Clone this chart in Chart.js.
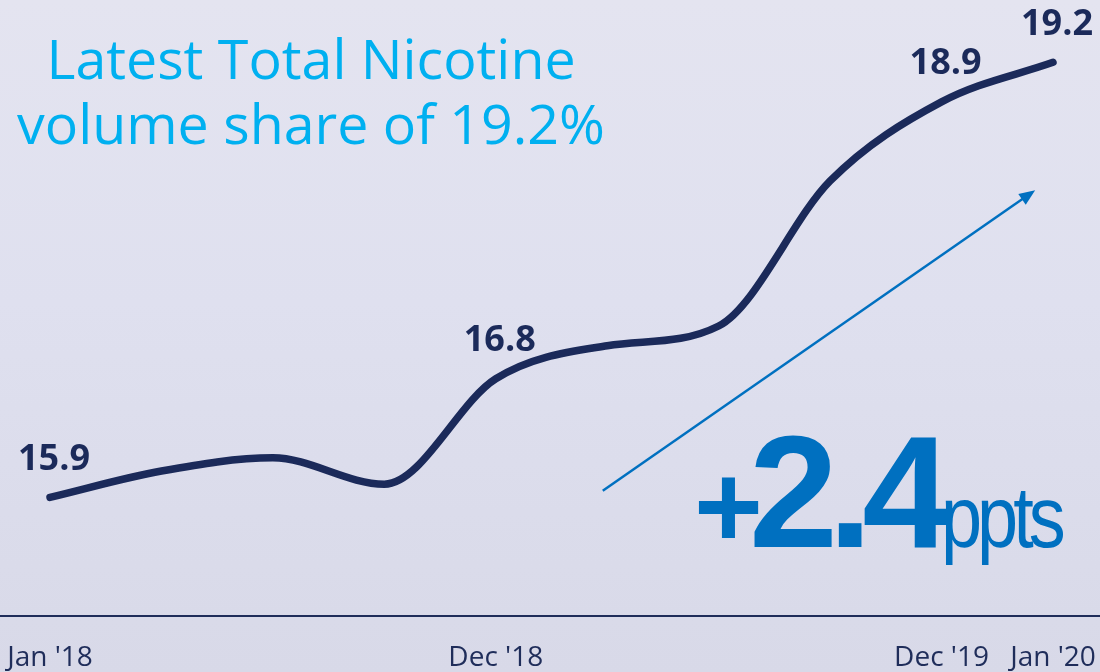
<!DOCTYPE html>
<html>
<head>
<meta charset="utf-8">
<title>Total Nicotine volume share</title>
<script src="https://cdn.jsdelivr.net/npm/chart.js"></script>
<style>
  html, body { margin: 0; padding: 0; }
  body {
    width: 1100px; height: 672px; overflow: hidden; position: relative;
    background: linear-gradient(180deg, #e4e4f0 0%, #dfe0ef 45%, #d8d9e8 100%);
    font-family: 'Open Sans', sans-serif;
  }
  #shareChart { position: absolute; left: 0; top: 0; }
  .headline {
    position: absolute; left: 0; top: 25px; width: 622px;
    text-align: center; color: #00b0f0; font-size: 55.5px; line-height: 65px;
  }
  .change {
    position: absolute; left: 694px; top: 412px; line-height: 160px;
    color: #0070c0; font-family: 'Liberation Sans', Arial, sans-serif; white-space: nowrap;
  }
  .change .plus { font-size: 118px; font-weight: bold; letter-spacing: -14px; }
  .change .num { font-size: 160px; font-weight: bold; letter-spacing: -10px; }
  .change .unit {
    display: inline-block; font-size: 88px; letter-spacing: -6px;
    transform: scaleX(0.84); transform-origin: left bottom;
  }
</style>
</head>
<body>
<canvas id="shareChart" width="1100" height="672"></canvas>
<div class="headline">Latest Total Nicotine<br>volume share of 19.2%</div>
<div class="change"><span class="plus">+</span><span class="num">2.4</span><span class="unit">ppts</span></div>

<script>
// periods on the x axis (only some of them get a tick label)
const periods = ["Jan '18", '', '', '', "Dec '18", '', '', '', "Dec '19", "Jan '20"];
// total nicotine volume share, %
const shareValues = [15.9, 16.1, 16.2, 16.0, 16.8, 17.05, 17.2, 18.3, 18.9, 19.2];
// points that carry a value label
const labelledPoints = [0, 4, 8, 9];
// trend arrow, in axis units (index, share)
const trendFrom = [4.96, 15.95];
const trendTo = [8.84, 18.23];

const navy = '#1b2a5a';

const overlayPlugin = {
    id: 'overlay',
    beforeDatasetsDraw(chart) {
        const ctx = chart.ctx;
        const y = chart.chartArea.bottom;
        // axis line across the whole slide
        ctx.save();
        ctx.strokeStyle = '#1f2d5a';
        ctx.lineWidth = 2;
        ctx.beginPath();
        ctx.moveTo(0, y);
        ctx.lineTo(chart.width, y);
        ctx.stroke();

        // trend arrow
        const xs = chart.scales.x, ys = chart.scales.y;
        const x1 = xs.getPixelForValue(trendFrom[0]), y1 = ys.getPixelForValue(trendFrom[1]);
        const x2 = xs.getPixelForValue(trendTo[0]), y2 = ys.getPixelForValue(trendTo[1]);
        const ang = Math.atan2(y2 - y1, x2 - x1);
        ctx.strokeStyle = '#0070c0';
        ctx.fillStyle = '#0070c0';
        ctx.lineWidth = 2.5;
        ctx.beginPath();
        ctx.moveTo(x1, y1);
        ctx.lineTo(x2 - 12 * Math.cos(ang), y2 - 12 * Math.sin(ang));
        ctx.stroke();
        ctx.beginPath();
        ctx.moveTo(x2, y2);
        ctx.lineTo(x2 - 16 * Math.cos(ang) + 6.5 * Math.sin(ang), y2 - 16 * Math.sin(ang) - 6.5 * Math.cos(ang));
        ctx.lineTo(x2 - 16 * Math.cos(ang) - 6.5 * Math.sin(ang), y2 - 16 * Math.sin(ang) + 6.5 * Math.cos(ang));
        ctx.closePath();
        ctx.fill();
        ctx.restore();
    },
    afterDatasetsDraw(chart) {
        const ctx = chart.ctx;
        const meta = chart.getDatasetMeta(0);
        ctx.save();
        ctx.font = 'bold 36px "Open Sans", sans-serif';
        ctx.fillStyle = navy;
        ctx.textAlign = 'center';
        ctx.textBaseline = 'middle';
        labelledPoints.forEach(i => {
            const pt = meta.data[i];
            ctx.fillText(shareValues[i].toFixed(1), pt.x + 4, pt.y - 38);
        });
        ctx.restore();
    }
};

new Chart(document.getElementById('shareChart'), {
    type: 'line',
    data: {
        labels: periods,
        datasets: [{
            label: 'Total Nicotine volume share',
            data: shareValues,
            borderColor: navy,
            borderWidth: 7.5,
            borderCapStyle: 'round',
            cubicInterpolationMode: 'monotone',
            pointRadius: 0,
            fill: false,
            clip: false
        }]
    },
    options: {
        responsive: false,
        animation: false,
        layout: { padding: { left: 50, right: 47, top: 3, bottom: 0 } },
        plugins: {
            legend: { display: false },
            tooltip: { enabled: false }
        },
        scales: {
            x: {
                grid: { display: false, drawTicks: false },
                border: { display: false },
                ticks: {
                    autoSkip: false,
                    maxRotation: 0,
                    padding: 25,
                    color: '#1f2d5a',
                    font: { family: "'Open Sans', sans-serif", size: 28 }
                },
                afterFit(scale) {
                    scale.height = 56;
                    scale.paddingLeft = 0;
                    scale.paddingRight = 0;
                }
            },
            y: {
                display: false,
                min: 15.0,
                max: 19.65
            }
        }
    },
    plugins: [overlayPlugin]
});
</script>
</body>
</html>
